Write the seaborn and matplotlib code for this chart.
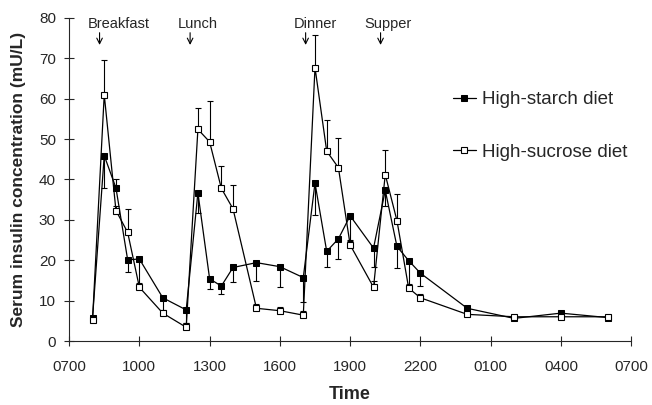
import numpy as np
import pandas as pd
import matplotlib
matplotlib.use('Agg')
import matplotlib.pyplot as plt
import seaborn as sns

# sampling times (clock), converted to hours after 0700 below
times = ['0800', '0830', '0900', '0930', '1000', '1100', '1200', '1230', '1300',
         '1330', '1400', '1500', '1600', '1700', '1730', '1800', '1830', '1900',
         '2000', '2030', '2100', '2130', '2200', '0000', '0200', '0400', '0600']

starch = [5.7, 45.9, 37.9, 20.1, 20.3, 10.7, 7.7, 36.7, 15.4, 13.6, 18.2, 19.4, 18.4,
          15.7, 39.1, 22.2, 25.3, 31.0, 23.0, 37.3, 23.4, 19.9, 16.8, 8.1, 5.6, 6.9, 5.8]
starch_err_lo = [0.5, 8.0, 0.0, 3.0, 7.0, 3.0, 3.3, 5.0, 2.5, 2.0, 3.5, 4.5, 5.0,
                 6.0, 8.0, 4.0, 5.0, 6.0, 4.6, 4.0, 5.4, 6.0, 3.2, 0.5, 0.5, 0.5, 0.5]
starch_err_hi = [0.0, 0.0, 2.3, 0.0, 0.0, 0.0, 0.0, 0.0, 0.0, 0.0, 0.0, 0.0, 0.0,
                 0.0, 0.0, 0.0, 0.0, 0.0, 0.0, 0.0, 0.0, 0.0, 0.0, 0.0, 0.0, 0.0, 0.0]

sucrose = [5.2, 61.0, 32.3, 26.9, 13.3, 6.9, 3.4, 52.4, 49.3, 37.8, 32.7, 8.1, 7.5,
           6.4, 67.7, 47.0, 42.9, 23.8, 13.3, 41.2, 29.8, 13.1, 10.7, 6.6, 6.0, 6.0, 6.0]
sucrose_err = [0.5, 8.5, 1.0, 5.8, 1.0, 0.5, 1.0, 5.3, 10.2, 5.6, 6.0, 1.0, 1.0,
               1.0, 8.0, 7.7, 7.4, 1.0, 1.5, 6.2, 6.6, 1.0, 1.0, 0.5, 0.5, 0.5, 0.5]

tick_labels = ['0700', '1000', '1300', '1600', '1900', '2200', '0100', '0400', '0700']

meals = ['Breakfast', 'Lunch', 'Dinner', 'Supper']
meal_times = ['0818', '1210', '1706', '2018']
meal_text_x = [2.1, 5.5, 10.5, 13.6]


def to_hours(t):
    return (int(t[:2]) + int(t[2:]) / 60 - 7) % 24


df = pd.DataFrame({'Time': [to_hours(t) for t in times],
                   'starch': starch, 'sucrose': sucrose})

sns.set_style('ticks')
plt.rcParams['font.family'] = ['Liberation Sans', 'DejaVu Sans']

fig = plt.figure(figsize=(6.52, 4.05), dpi=100)
ax = fig.add_axes([0.106, 0.158, 0.862, 0.798])

ax.errorbar(df['Time'], df['starch'], yerr=[starch_err_lo, starch_err_hi], fmt='none',
            ecolor='black', elinewidth=0.8, capsize=2.5, capthick=0.8)
ax.errorbar(df['Time'], df['sucrose'], yerr=[np.zeros(len(sucrose)), sucrose_err], fmt='none',
            ecolor='black', elinewidth=0.8, capsize=2.5, capthick=0.8)

sns.lineplot(data=df, x='Time', y='starch', ax=ax, color='black', lw=0.9,
             marker='s', markersize=5, markerfacecolor='black', markeredgecolor='black',
             label='High-starch diet')
sns.lineplot(data=df, x='Time', y='sucrose', ax=ax, color='black', lw=0.9,
             marker='s', markersize=5, markerfacecolor='white', markeredgecolor='black',
             markeredgewidth=0.8, label='High-sucrose diet')

for name, t, tx in zip(meals, meal_times, meal_text_x):
    h = to_hours(t)
    ax.text(tx, 78.4, name, ha='center', va='center', fontsize=10.5)
    ax.annotate('', xy=(h, 72.6), xytext=(h, 77.0),
                arrowprops=dict(arrowstyle='->', lw=0.8, color='black'))

ax.set_xlim(0, 24)
ax.set_ylim(0, 80)
ax.set_xticks(np.arange(0, 25, 3))
ax.set_xticklabels(tick_labels)
ax.set_yticks(np.arange(0, 81, 10))
ax.tick_params(direction='inout', length=7, width=0.8, labelsize=11)
ax.tick_params(axis='x', pad=10)
ax.tick_params(axis='y', pad=6)
for s in ['top', 'right']:
    ax.spines[s].set_visible(False)
for s in ['left', 'bottom']:
    ax.spines[s].set_linewidth(0.8)

ax.set_xlabel('Time', fontsize=13, fontweight='bold', labelpad=9)
ax.set_ylabel('Serum insulin concentration (mU/L)', fontsize=12.5, fontweight='bold', labelpad=9)

ax.legend(loc='center left', bbox_to_anchor=(0.695, 0.689), bbox_transform=fig.transFigure,
          frameon=False, fontsize=13.5, borderpad=0, borderaxespad=0,
          handlelength=1.2, labelspacing=1.9, handletextpad=0.35)

fig.savefig('out.png', dpi=100)
